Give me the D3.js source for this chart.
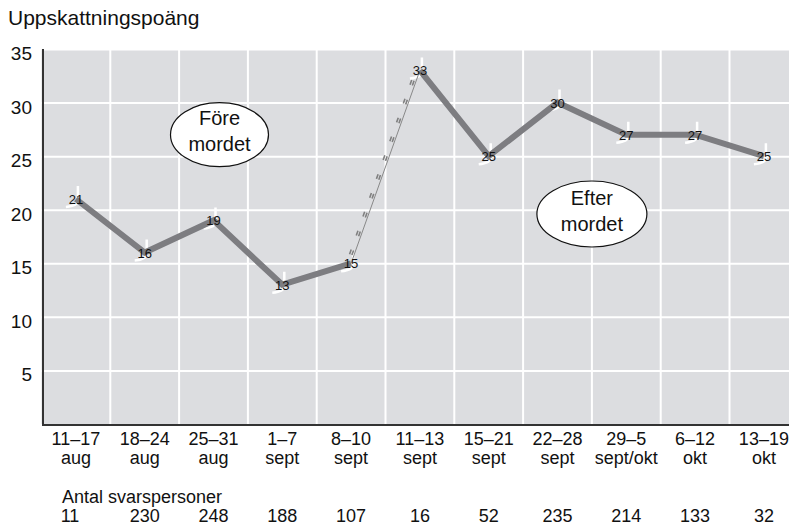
<!DOCTYPE html>
<html>
<head>
<meta charset="utf-8">
<script src="https://cdn.jsdelivr.net/npm/d3@7"></script>
<style>
  body { margin: 0; background: #fff; }
  svg { display: block; font-family: "Liberation Sans", Arial, sans-serif; }
</style>
</head>
<body>
<svg id="chart" width="789" height="528"></svg>
<script>
// data
const periods = ["11–17", "18–24", "25–31", "1–7", "8–10", "11–13", "15–21", "22–28", "29–5", "6–12", "13–19"];
const months = ["aug", "aug", "aug", "sept", "sept", "sept", "sept", "sept", "sept/okt", "okt", "okt"];
const scores = [21, 16, 19, 13, 15, 33, 25, 30, 27, 27, 25];
const respondents = [11, 230, 248, 188, 107, 16, 52, 235, 214, 133, 32];
const yTicks = [5, 10, 15, 20, 25, 30, 35];
const yTitle = "Uppskattningspoäng";
const countTitle = "Antal svarspersoner";
const beforeText = ["Före", "mordet"];
const afterText = ["Efter", "mordet"];

const svg = d3.select("#chart");
const plotLeft = 41.5, step = 68.8;
const plotTop = 49, plotBottom = 424;

const x = d3.scaleBand().domain(periods).range([plotLeft, plotLeft + step * periods.length]).padding(0);
const y = d3.scaleLinear().domain([0, 35]).range([plotBottom, plotTop]);
const cx = i => x(periods[i]) + x.bandwidth() / 2;

// plot background
svg.append("rect")
  .attr("x", plotLeft).attr("y", plotTop)
  .attr("width", x.range()[1] - plotLeft).attr("height", plotBottom - plotTop)
  .attr("fill", "#dcdde0");

// horizontal grid
svg.append("g")
  .attr("transform", `translate(${plotLeft},0)`)
  .call(d3.axisLeft(y).tickValues(yTicks).tickSize(-(x.range()[1] - plotLeft)).tickFormat(""))
  .call(g => g.select(".domain").remove())
  .call(g => g.selectAll("line").attr("stroke", "#fff").attr("stroke-width", 2));

// vertical grid at band boundaries
svg.append("g").selectAll("line")
  .data(periods.slice(1))
  .join("line")
  .attr("x1", d => x(d)).attr("x2", d => x(d))
  .attr("y1", plotTop).attr("y2", plotBottom)
  .attr("stroke", "#fff").attr("stroke-width", 2);

// y tick labels
svg.append("g")
  .attr("transform", "translate(43,0)")
  .call(d3.axisLeft(y).tickValues(yTicks).tickSize(0).tickPadding(11))
  .call(g => g.select(".domain").remove())
  .call(g => g.selectAll("text")
    .attr("font-size", 19).attr("font-family", "Liberation Sans, Arial, sans-serif")
    .attr("fill", "#111").attr("dy", "0.55em"));

// axis lines
svg.append("line").attr("x1", 43).attr("x2", 43).attr("y1", plotTop).attr("y2", plotBottom + 1)
  .attr("stroke", "#333").attr("stroke-width", 2);
svg.append("line").attr("x1", 42).attr("x2", 789).attr("y1", plotBottom + 1).attr("y2", plotBottom + 1)
  .attr("stroke", "#333").attr("stroke-width", 2);

// x labels, two lines
const xAx = svg.append("g")
  .attr("transform", `translate(0,${plotBottom})`)
  .call(d3.axisBottom(x).tickSize(0).tickFormat(""))
  .call(g => g.select(".domain").remove());
xAx.selectAll(".tick").append("text")
  .attr("fill", "#111").attr("font-size", 18).attr("text-anchor", "middle")
  .each(function (d, i) {
    const t = d3.select(this);
    t.append("tspan").attr("x", 0).attr("y", 21).text(d);
    t.append("tspan").attr("x", 0).attr("y", 40).text(months[i]);
  });

// title
svg.append("text").attr("x", 8).attr("y", 25)
  .attr("font-size", 21).attr("fill", "#111").text(yTitle);

// respondents
svg.append("text").attr("x", 62).attr("y", 503)
  .attr("font-size", 18).attr("fill", "#111").text(countTitle);
svg.append("g").selectAll("text")
  .data(respondents)
  .join("text")
  .attr("x", (d, i) => i === 0 ? 70 : cx(i)).attr("y", 522)
  .attr("text-anchor", "middle").attr("font-size", 18).attr("fill", "#111")
  .text(d => d);

// annotation ellipses
function bubble(px, py, rx, ry, lines) {
  const g = svg.append("g");
  g.append("ellipse").attr("cx", px).attr("cy", py).attr("rx", rx).attr("ry", ry)
    .attr("fill", "#fff").attr("stroke", "#111").attr("stroke-width", 1.2);
  g.selectAll("text").data(lines).join("text")
    .attr("x", px).attr("y", (d, i) => py - 9.5 + i * 26)
    .attr("text-anchor", "middle").attr("font-size", 20).attr("fill", "#111")
    .text(d => d);
}
bubble(cx(2) + 6, y(27), 49, 32, beforeText);
bubble(x(periods[8]), y(19.6), 55, 33, afterText);

// white hooks under each point
const pts = scores.map((v, i) => [cx(i), y(v)]);
svg.append("g").selectAll("path")
  .data(pts)
  .join("path")
  .attr("d", ([px, py]) => `M${px + 2},${py - 13} L${px + 2},${py + 1} Q${px + 2},${py + 7} ${px - 10},${py + 8}`)
  .attr("fill", "none").attr("stroke", "#fff").attr("stroke-width", 2.5);

// line segments
const line = d3.line();
const solidA = pts.slice(0, 5), solidB = pts.slice(5);
[solidA, solidB].forEach(seg => {
  svg.append("path").attr("d", line(seg))
    .attr("fill", "none").attr("stroke", "#7d7d81").attr("stroke-width", 6)
    .attr("stroke-linejoin", "miter");
});

// the jump between 8–10 and 11–13 sept: thin line with small double ticks
const jump = pts.slice(4, 6);
svg.append("path").attr("d", line(jump))
  .attr("fill", "none").attr("stroke", "#888").attr("stroke-width", 1);
const [p0, p1] = jump;
const len = Math.hypot(p1[0] - p0[0], p1[1] - p0[1]);
const nx = -(p1[1] - p0[1]) / len, ny = (p1[0] - p0[0]) / len;
[-2, -4.5].forEach(off => {
  svg.append("path")
    .attr("d", line(jump.map(([a, b]) => [a + nx * off, b + ny * off])))
    .attr("fill", "none").attr("stroke", "#808080").attr("stroke-width", 1.6)
    .attr("stroke-dasharray", "5 15").attr("stroke-dashoffset", -8);
});

// value labels
svg.append("g").selectAll("text")
  .data(scores)
  .join("text")
  .attr("x", (d, i) => cx(i)).attr("y", d => y(d) + 5)
  .attr("text-anchor", "middle").attr("font-size", 13).attr("fill", "#111")
  .text(d => d);
</script>
</body>
</html>
